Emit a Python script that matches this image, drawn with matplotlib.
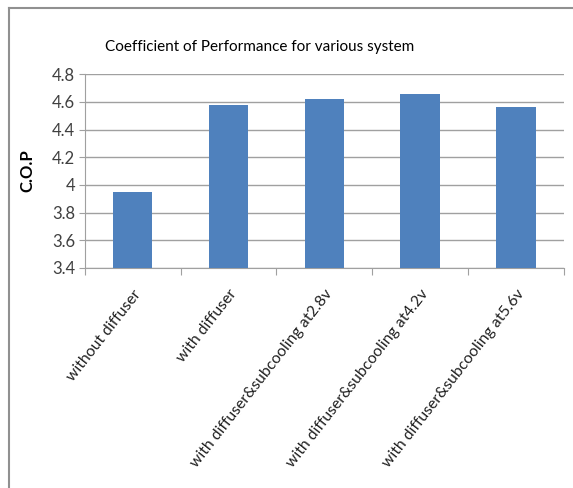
import matplotlib
matplotlib.use("Agg")
import matplotlib.pyplot as plt
from matplotlib.lines import Line2D

plt.rcParams['font.family'] = ['Lato', 'DejaVu Sans']

# data
systems = [
    "without diffuser",
    "with diffuser",
    "with diffuser&subcooling at2.8v",
    "with diffuser&subcooling at4.2v",
    "with diffuser&subcooling at5.6v",
]
cop = [3.95, 4.58, 4.62, 4.66, 4.56]
y_ticks = [3.4, 3.6, 3.8, 4.0, 4.2, 4.4, 4.6, 4.8]
y_tick_labels = ["3.4", "3.6", "3.8", "4", "4.2", "4.4", "4.6", "4.8"]

fig = plt.figure(figsize=(5.73, 4.88), dpi=100)
ax = fig.add_axes([0.148, 0.451, 0.836, 0.397])

x = range(len(systems))
ax.bar(x, cop, width=0.41, color="#4F81BD", zorder=3)

ax.set_ylim(3.4, 4.8)
ax.set_xlim(-0.5, len(systems) - 0.5)
ax.set_yticks(y_ticks)
ax.set_yticklabels(y_tick_labels, fontsize=12, color="#404040")
ax.yaxis.grid(True, color="#a0a0a0", linewidth=1, zorder=0)

# x ticks sit between categories, labels under bars
ax.set_xticks([i - 0.5 for i in range(len(systems) + 1)])
ax.set_xticklabels([])
ax.set_xticks(list(x), minor=True)
ax.set_xticklabels(systems, minor=True, rotation=52, ha="right",
                   rotation_mode="anchor", fontsize=11.3, color="#202020")
ax.tick_params(axis="x", which="minor", length=0, pad=14)
ax.tick_params(axis="x", which="major", length=5, color="#a0a0a0")
ax.tick_params(axis="y", length=4, color="#a0a0a0", pad=3)

for side in ["top", "right"]:
    ax.spines[side].set_visible(False)
for side in ["left", "bottom"]:
    ax.spines[side].set_color("#a0a0a0")

ax.set_ylabel("C.O.P", fontsize=12, fontweight="bold", labelpad=12)
fig.text(0.183, 0.903, "Coefficient of Performance for various system",
         fontsize=11, va="center", ha="left", color="black")

# outer border (only left and top visible)
fig.add_artist(Line2D([0.015, 0.015], [0, 0.984], transform=fig.transFigure,
                      color="#909090", linewidth=1.5))
fig.add_artist(Line2D([0.015, 1.0], [0.984, 0.984], transform=fig.transFigure,
                      color="#909090", linewidth=1.5))

fig.savefig("out.png", dpi=100)
